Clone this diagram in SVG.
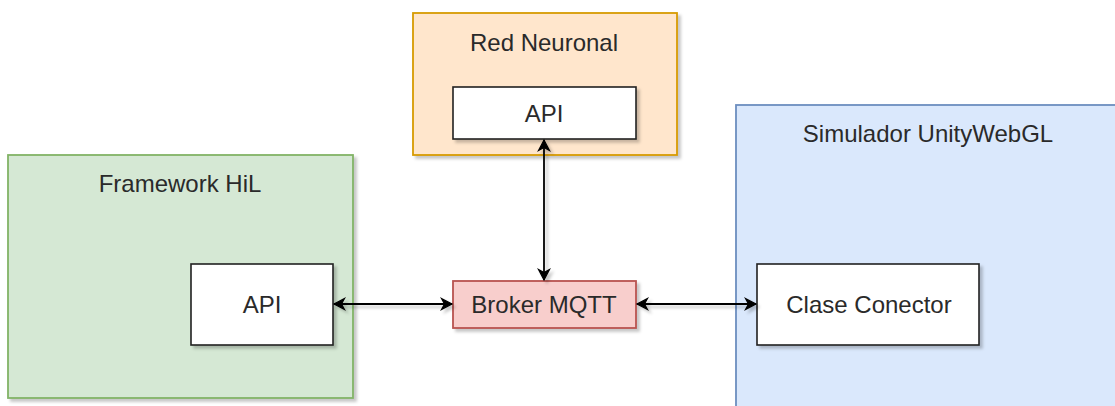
<svg xmlns="http://www.w3.org/2000/svg" width="1115" height="406" viewBox="0 0 1115 406">
  <defs>
    <filter id="shadow" x="-10%" y="-10%" width="130%" height="130%">
      <feDropShadow dx="3" dy="3" stdDeviation="1.8" flood-color="#000" flood-opacity="0.22"/>
    </filter>
    <!-- lines have a zero-size bounding box, so their filter region is given in user space -->
    <filter id="line-shadow" filterUnits="userSpaceOnUse" x="0" y="0" width="1115" height="406">
      <feDropShadow dx="3" dy="3" stdDeviation="1.8" flood-color="#000" flood-opacity="0.22"/>
    </filter>
    <marker id="arrow" viewBox="0 0 14 14" refX="12" refY="7" markerWidth="14" markerHeight="14" markerUnits="userSpaceOnUse" orient="auto-start-reverse">
      <path d="M1.5,1.5 L12,7 L1.5,12.5 L4.5,7 Z" fill="#000" stroke="#000" stroke-width="1.2" stroke-linejoin="miter"/>
    </marker>
    <style>
      .box { stroke-width: 1.8; filter: url(#shadow); }
      .inner { fill: #ffffff; stroke: #222; stroke-width: 1.6; filter: url(#shadow); }
      .label { font-family: "Liberation Sans", Arial, sans-serif; font-size: 24px; fill: #2a2a2a; text-anchor: middle; }
      .link { fill: none; stroke: #000; stroke-width: 1.8; marker-start: url(#arrow); marker-end: url(#arrow); }
      #connectors { filter: url(#line-shadow); }
    </style>
  </defs>

  <rect width="1115" height="406" fill="#ffffff"/>

  <!-- Red Neuronal container -->
  <g id="red-neuronal">
    <rect class="box" x="413" y="13" width="264" height="142" fill="#ffe6cc" stroke="#d79b00"/>
    <text class="label" x="544" y="51">Red Neuronal</text>
  </g>
  <g id="red-neuronal-api">
    <rect class="inner" x="453" y="87" width="183" height="52"/>
    <text class="label" x="544" y="122">API</text>
  </g>

  <!-- Framework HiL container -->
  <g id="framework-hil">
    <rect class="box" x="8" y="155" width="345" height="243" fill="#d5e8d4" stroke="#82b366"/>
    <text class="label" x="180" y="192">Framework HiL</text>
  </g>
  <g id="framework-api">
    <rect class="inner" x="191" y="264" width="142" height="81"/>
    <text class="label" x="262" y="313">API</text>
  </g>

  <!-- Simulador container -->
  <g id="simulador">
    <rect class="box" x="736" y="105" width="400" height="320" fill="#dae8fc" stroke="#6c8ebf"/>
    <text class="label" x="928" y="142">Simulador UnityWebGL</text>
  </g>
  <g id="clase-conector">
    <rect class="inner" x="757" y="264" width="222" height="81"/>
    <text class="label" x="869" y="313">Clase Conector</text>
  </g>

  <!-- Broker -->
  <g id="broker">
    <rect class="box" x="453" y="281" width="183" height="47" fill="#f8cecc" stroke="#b85450"/>
    <text class="label" x="544" y="313">Broker MQTT</text>
  </g>

  <!-- Connectors -->
  <g id="connectors">
    <line class="link" x1="544" y1="140" x2="544" y2="280"/>
    <line class="link" x1="334" y1="304" x2="452" y2="304"/>
    <line class="link" x1="637" y1="304" x2="756" y2="304"/>
  </g>
</svg>
